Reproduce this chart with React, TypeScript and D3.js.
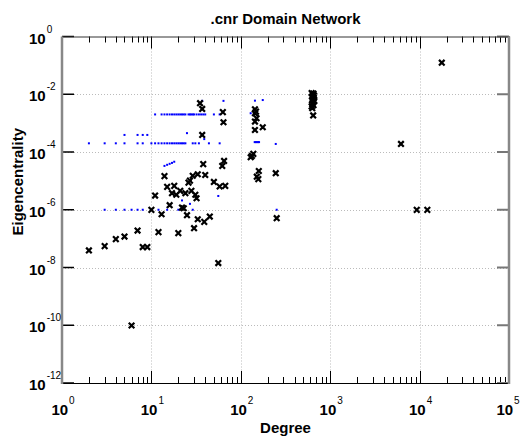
import React, { useEffect, useRef } from "react";
import * as d3 from "d3";

// black "x" markers: degree / eigencentrality
const blackDegree = [
  35, 37, 63, 64, 37, 38, 65, 62, 14, 33, 40, 29, 27, 26, 50, 58, 67, 15, 18, 17,
  19, 21, 24, 28, 31, 32, 11, 16, 22, 23, 10, 13, 25, 33, 39, 45, 30, 7, 12, 20,
  5, 4, 3, 2, 8, 9, 56, 6,
  620, 650, 640, 660, 630, 655, 645, 625, 665, 640, 635, 650, 620, 630, 645,
  144, 148, 144, 150, 144, 144, 176, 129, 138, 133, 159, 151, 157, 246, 252,
  6190, 9290, 12200, 17700,
];
const blackEig = [
  4.9e-3, 3.1e-3, 2.4e-3, 1.07e-3, 3.9e-4, 3.8e-5, 4.9e-5, 3.3e-5, 1.46e-5, 1.7e-5,
  1.6e-5, 1.5e-5, 1.02e-5, 8.7e-6, 9.2e-6, 6.4e-6, 6.7e-6, 6.2e-6, 6.7e-6, 3.75e-6,
  3.3e-6, 4.5e-6, 3.75e-6, 4.5e-6, 3.3e-6, 2.5e-6, 3.1e-6, 1.44e-6, 1.19e-6, 1.13e-6,
  9.9e-7, 7.0e-7, 6.5e-7, 4.7e-7, 3.8e-7, 5.8e-7, 2.3e-7, 1.9e-7, 1.68e-7, 1.55e-7,
  1.18e-7, 9.6e-8, 5.5e-8, 3.9e-8, 5.1e-8, 5.1e-8, 1.42e-8, 9.8e-11,
  1.1e-2, 1.05e-2, 9.5e-3, 9e-3, 8.2e-3, 7.5e-3, 6.8e-3, 6.2e-3, 5.8e-3, 5.2e-3,
  4.6e-3, 4.2e-3, 3.8e-3, 3.3e-3, 1.85e-3,
  3.0e-3, 2.5e-3, 2.2e-3, 1.48e-3, 1.13e-3, 5.8e-4, 7.2e-4, 6.6e-5, 8.6e-5, 7.3e-5,
  2.2e-5, 1.4e-5, 1.15e-5, 1.85e-5, 5.1e-7,
  1.9e-4, 9.9e-7, 9.9e-7, 0.124,
];

// small blue points
const blueDegree = [
  2, 3, 4, 5, 7, 8, 10, 11, 12, 13, 14, 15, 16, 17, 18, 19, 20, 21, 22, 23, 24, 29, 31, 34, 44, 58,
  143, 147, 151, 156, 160, 246,
  11, 13, 14, 15, 16, 17, 18, 19, 20, 21, 22, 23, 24, 26, 27, 28, 29, 30, 32, 34, 36, 38, 40, 50, 58, 129,
  5, 7, 8, 9, 25, 39,
  37, 64, 144, 176,
  14, 15, 16, 17, 18,
  3, 4, 5, 6, 7, 8, 10, 12, 15, 20, 29, 252,
  22, 27, 56,
];
const blueEig = [
  2e-4, 2e-4, 2e-4, 2e-4, 2e-4, 2e-4, 2e-4, 2e-4, 2e-4, 2e-4, 2e-4, 2e-4, 2e-4, 2e-4, 2e-4, 2e-4, 2e-4, 2e-4, 2e-4, 2e-4, 2e-4, 2e-4, 2e-4, 2e-4, 2e-4, 2e-4,
  2.2e-4, 2.2e-4, 2.2e-4, 2.2e-4, 2.2e-4, 1.9e-4,
  2e-3, 2e-3, 2e-3, 2e-3, 2e-3, 2e-3, 2e-3, 2e-3, 2e-3, 2e-3, 2e-3, 2e-3, 2e-3, 2e-3, 2e-3, 2e-3, 2e-3, 2e-3, 2e-3, 2e-3, 2e-3, 2e-3, 2e-3, 2e-3, 2e-3, 2.2e-3,
  3.9e-4, 3.9e-4, 3.9e-4, 3.9e-4, 4.5e-4, 2.8e-4,
  5.9e-3, 5.9e-3, 6.0e-3, 6.3e-3,
  3.3e-5, 3.6e-5, 3.9e-5, 4.2e-5, 4.6e-5,
  1e-6, 1e-6, 1e-6, 1e-6, 1e-6, 1e-6, 1e-6, 1e-6, 1e-6, 1e-6, 1e-6, 1e-6,
  2.1e-6, 1.6e-6, 3.0e-6,
];

const xDecades = [0, 1, 2, 3, 4, 5];
const yDecades = [0, -2, -4, -6, -8, -10, -12];

const width = 521;
const height = 441;
const margin = { top: 36.5, right: 12, bottom: 58, left: 62 };

const App = () => {
  const ref: any = useRef();

  useEffect(() => {
    const svg = d3.select(ref.current);
    svg.selectAll("*").remove();

    const x = d3
      .scaleLog()
      .domain([1, 1e5])
      .range([margin.left, width - margin.right]);
    const y = d3
      .scaleLog()
      .domain([1e-12, 1])
      .range([height - margin.bottom, margin.top]);

    const [x0, x1] = x.range();
    const [y0, y1] = y.range(); // y0 bottom, y1 top
    const font = "'Liberation Sans', Arial, sans-serif";

    // grid
    const grid = svg.append("g").attr("stroke", "#bbb").attr("stroke-dasharray", "1,2");
    grid
      .selectAll("line.gx")
      .data(xDecades.slice(1, -1))
      .join("line")
      .attr("x1", (d) => Math.round(x(10 ** d)) + 0.5)
      .attr("x2", (d) => Math.round(x(10 ** d)) + 0.5)
      .attr("y1", y1)
      .attr("y2", y0);
    grid
      .selectAll("line.gy")
      .data(yDecades.slice(1, -1))
      .join("line")
      .attr("class", "gy")
      .attr("y1", (d) => Math.round(y(10 ** d)) + 0.5)
      .attr("y2", (d) => Math.round(y(10 ** d)) + 0.5)
      .attr("x1", x0)
      .attr("x2", x1);

    // x ticks (bottom and top), major + minor
    const minor: number[] = [];
    xDecades.slice(0, -1).forEach((e) => {
      for (let k = 2; k <= 9; k++) minor.push(k * 10 ** e);
    });
    const ticks = svg.append("g").attr("stroke", "#000");
    ticks
      .selectAll("line.mb")
      .data(minor)
      .join("line")
      .attr("x1", (d) => Math.round(x(d)) + 0.5)
      .attr("x2", (d) => Math.round(x(d)) + 0.5)
      .attr("y1", y0)
      .attr("y2", y0 - 6);
    ticks
      .selectAll("line.mt")
      .data(minor)
      .join("line")
      .attr("class", "mt")
      .attr("x1", (d) => Math.round(x(d)) + 0.5)
      .attr("x2", (d) => Math.round(x(d)) + 0.5)
      .attr("y1", y1)
      .attr("y2", y1 + 6);
    ticks
      .selectAll("line.Mb")
      .data(xDecades)
      .join("line")
      .attr("class", "Mb")
      .attr("x1", (d) => Math.round(x(10 ** d)) + 0.5)
      .attr("x2", (d) => Math.round(x(10 ** d)) + 0.5)
      .attr("y1", y0)
      .attr("y2", y0 - 12);
    ticks
      .selectAll("line.Mt")
      .data(xDecades)
      .join("line")
      .attr("class", "Mt")
      .attr("x1", (d) => Math.round(x(10 ** d)) + 0.5)
      .attr("x2", (d) => Math.round(x(10 ** d)) + 0.5)
      .attr("y1", y1)
      .attr("y2", y1 + 12);

    // y ticks left (black) and right (gray)
    ticks
      .selectAll("line.yl")
      .data(yDecades)
      .join("line")
      .attr("class", "yl")
      .attr("stroke-width", 1.5)
      .attr("x1", x0)
      .attr("x2", x0 + 12)
      .attr("y1", (d) => y(10 ** d))
      .attr("y2", (d) => y(10 ** d));
    svg
      .append("g")
      .attr("stroke", "#777")
      .attr("stroke-width", 2)
      .selectAll("line")
      .data(yDecades)
      .join("line")
      .attr("x1", x1 - 12)
      .attr("x2", x1)
      .attr("y1", (d) => y(10 ** d))
      .attr("y2", (d) => y(10 ** d));

    // frame
    svg
      .append("line")
      .attr("x1", x0)
      .attr("x2", x1)
      .attr("y1", y1 + 0.5)
      .attr("y2", y1 + 0.5)
      .attr("stroke", "#333");
    svg
      .append("line")
      .attr("x1", x0)
      .attr("x2", x1)
      .attr("y1", y0 + 0.5)
      .attr("y2", y0 + 0.5)
      .attr("stroke", "#000");
    svg
      .append("line")
      .attr("x1", x0)
      .attr("x2", x0)
      .attr("y1", y1)
      .attr("y2", y0 + 1)
      .attr("stroke", "#888")
      .attr("stroke-width", 2.5);
    svg
      .append("line")
      .attr("x1", x1)
      .attr("x2", x1)
      .attr("y1", y1)
      .attr("y2", y0 + 1)
      .attr("stroke", "#888")
      .attr("stroke-width", 2.5);

    // blue points
    svg
      .append("g")
      .attr("fill", "#0000ff")
      .selectAll("rect")
      .data(blueDegree.map((d, i) => [d, blueEig[i]]))
      .join("rect")
      .attr("x", (d) => x(d[0]) - 1)
      .attr("y", (d) => y(d[1]) - 1)
      .attr("width", 2)
      .attr("height", 2);

    // black x markers
    svg
      .append("g")
      .attr("stroke", "#000")
      .attr("stroke-width", 2.2)
      .attr("fill", "none")
      .selectAll("path")
      .data(blackDegree.map((d, i) => [d, blackEig[i]]))
      .join("path")
      .attr("transform", (d) => `translate(${x(d[0])},${y(d[1])})`)
      .attr("d", "M-2.8,-2.8L2.8,2.8M-2.8,2.8L2.8,-2.8");

    // x tick labels
    const xl = svg
      .append("g")
      .attr("font-family", font)
      .selectAll("text")
      .data(xDecades)
      .join("text")
      .attr("x", (d) => Math.min(x(10 ** d) + 1, 508))
      .attr("y", y0 + 32)
      .attr("text-anchor", "middle");
    xl.append("tspan").attr("font-size", 15).attr("font-weight", "bold").text("10");
    xl.append("tspan").attr("font-size", 10).attr("dx", 1).attr("dy", -11).text((d) => `${d}`);

    // y tick labels
    const yl = svg
      .append("g")
      .attr("font-family", font)
      .selectAll("text")
      .data(yDecades)
      .join("text")
      .attr("x", 29)
      .attr("y", (d) => y(10 ** d) + 7);
    yl.append("tspan").attr("font-size", 15).attr("font-weight", "bold").text("10");
    yl.append("tspan").attr("font-size", 10).attr("dx", 1).attr("dy", -11).text((d) => `${d}`);

    // title and axis labels
    svg
      .append("text")
      .attr("x", (x0 + x1) / 2)
      .attr("y", 24)
      .attr("text-anchor", "middle")
      .attr("font-family", font)
      .attr("font-weight", "bold")
      .attr("font-size", 15)
      .text(".cnr Domain Network");
    svg
      .append("text")
      .attr("x", (x0 + x1) / 2)
      .attr("y", 433)
      .attr("text-anchor", "middle")
      .attr("font-family", font)
      .attr("font-weight", "bold")
      .attr("font-size", 15)
      .text("Degree");
    svg
      .append("text")
      .attr("transform", `translate(23,${(y0 + y1) / 2 - 28}) rotate(-90)`)
      .attr("text-anchor", "middle")
      .attr("font-family", font)
      .attr("font-weight", "bold")
      .attr("font-size", 15)
      .text("Eigencentrality");
  }, []);

  return (
    <svg
      ref={ref}
      width={width}
      height={height}
      style={{ position: "absolute", left: 0, top: 0, background: "#fff" }}
    ></svg>
  );
};

export default App;
